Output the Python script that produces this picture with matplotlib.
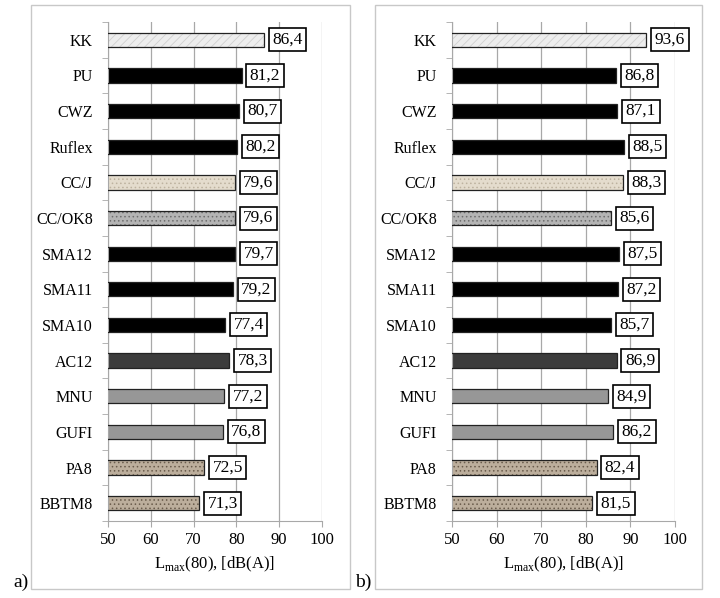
import numpy as np
import matplotlib
matplotlib.use("Agg")
import matplotlib.pyplot as plt
from matplotlib.patches import Rectangle

plt.rcParams['font.family'] = ['Liberation Serif', 'DejaVu Serif']
plt.rcParams['hatch.linewidth'] = 0.6

categories = ['KK', 'PU', 'CWZ', 'Ruflex', 'CC/J', 'CC/OK8', 'SMA12', 'SMA11',
              'SMA10', 'AC12', 'MNU', 'GUFI', 'PA8', 'BBTM8']
values_a = [86.4, 81.2, 80.7, 80.2, 79.6, 79.6, 79.7, 79.2, 77.4, 78.3, 77.2, 76.8, 72.5, 71.3]
values_b = [93.6, 86.8, 87.1, 88.5, 88.3, 85.6, 87.5, 87.2, 85.7, 86.9, 84.9, 86.2, 82.4, 81.5]
xticks = [50, 60, 70, 80, 90, 100]

# fill colour, hatch, hatch colour for each surface
styles = {
    'KK': ('#ededed', '////', '#cfcfcf'),
    'PU': ('#000000', None, None),
    'CWZ': ('#000000', None, None),
    'Ruflex': ('#000000', None, None),
    'CC/J': ('#e4dccd', '....', '#bdb29f'),
    'CC/OK8': ('#b4b4b4', '....', '#6e6e6e'),
    'SMA12': ('#000000', None, None),
    'SMA11': ('#000000', None, None),
    'SMA10': ('#000000', None, None),
    'AC12': ('#3c3c3c', None, None),
    'MNU': ('#979797', None, None),
    'GUFI': ('#979797', None, None),
    'PA8': ('#bcae9c', '....', '#6a5c4c'),
    'BBTM8': ('#bcae9c', '....', '#6a5c4c'),
}

fig = plt.figure(figsize=(7.2, 5.98), dpi=100)

# panel frames
for x0, w in [(31 / 720, 319 / 720), (375 / 720, 327 / 720)]:
    fig.patches.append(Rectangle((x0, 9 / 598), w, 584 / 598, transform=fig.transFigure,
                                 fill=False, edgecolor='#c8c8c8', lw=1.0))

ax_a = fig.add_axes([108 / 720, 77 / 598, 214 / 720, 499 / 598])
ax_b = fig.add_axes([452 / 720, 77 / 598, 223 / 720, 499 / 598])

grid_col = '#a8a8a8'
y = np.arange(len(categories))

for ax, vals in [(ax_a, values_a), (ax_b, values_b)]:
    for i, (cat, v) in enumerate(zip(categories, vals)):
        fc, hatch, hc = styles[cat]
        ax.barh(i, v, height=0.4, color=fc, edgecolor=hc if hatch else 'none',
                hatch=hatch, lw=0, zorder=2)
        ax.barh(i, v, height=0.4, fill=False, edgecolor='#222222', lw=0.9, zorder=3)
        ax.annotate(f"{v:.1f}".replace('.', ','), xy=(v, i), xytext=(6, 0),
                    textcoords='offset points', ha='left', va='center', fontsize=12.5,
                    bbox=dict(boxstyle='square,pad=0.2', fc='white', ec='black', lw=1.2),
                    zorder=4)
    ax.set_xlim(50, 100)
    ax.set_ylim(len(categories) - 0.5, -0.5)
    ax.set_xticks(xticks)
    ax.set_yticks(y)
    ax.set_yticklabels(categories, fontsize=11.5)
    ax.set_yticks(np.arange(len(categories) + 1) - 0.5, minor=True)
    ax.tick_params(axis='y', which='major', length=0, pad=11)
    ax.tick_params(axis='y', which='minor', length=4, color=grid_col, direction='out')
    ax.tick_params(axis='x', length=4, color=grid_col, labelsize=12, pad=4)
    ax.grid(axis='x', color=grid_col, lw=0.9, zorder=0)
    for s in ['top', 'right']:
        ax.spines[s].set_visible(False)
    for s in ['left', 'bottom']:
        ax.spines[s].set_color(grid_col)
    ax.set_xlabel('L$_{\\mathregular{max}}$(80), [dB(A)]', fontsize=12)
    ax.xaxis.set_label_coords(0.5, -0.067)

fig.text(13 / 720, 11 / 598, 'a)', fontsize=14, ha='left', va='baseline')
fig.text(355 / 720, 11 / 598, 'b)', fontsize=14, ha='left', va='baseline')

fig.savefig('out.png', dpi=100)
